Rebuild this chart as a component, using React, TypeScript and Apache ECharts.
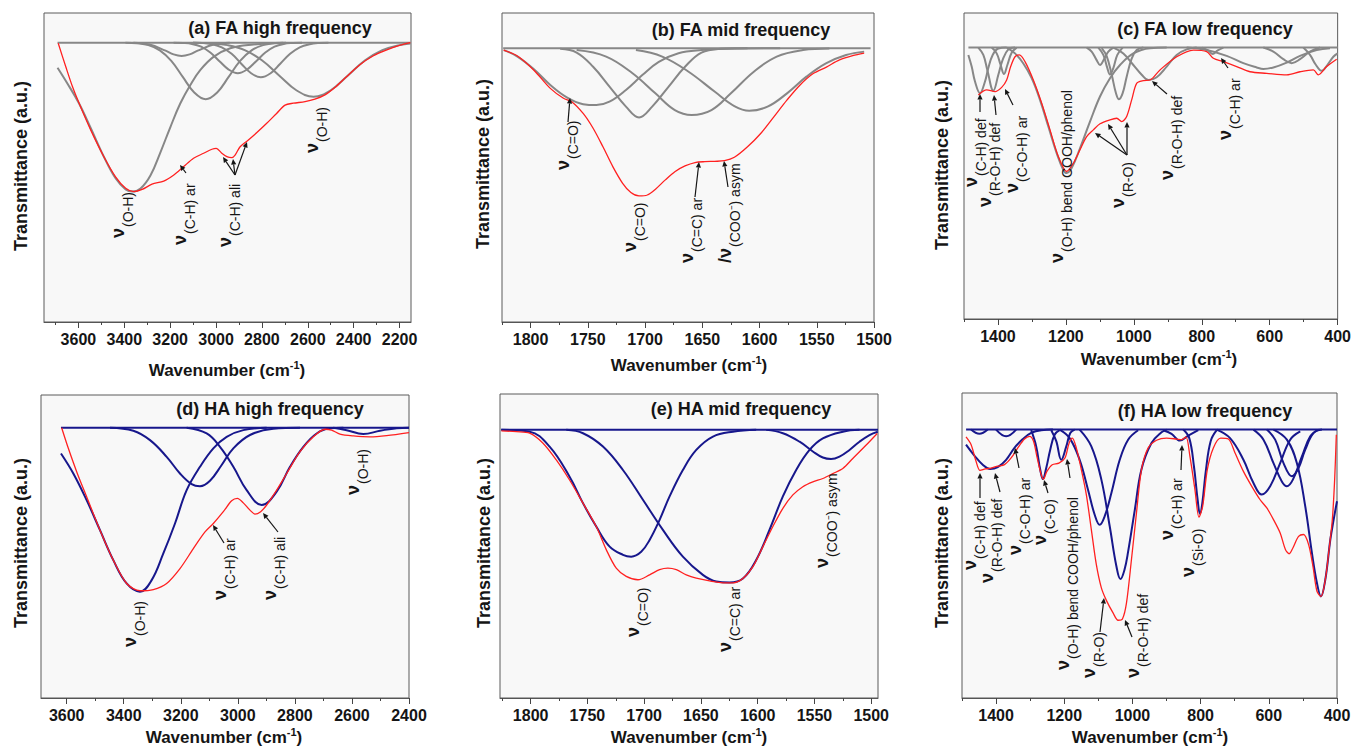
import React, { useEffect, useRef } from "react";
import * as echarts from "echarts";

const FONT = '"Liberation Sans", Arial, Helvetica, sans-serif';
const RED = "#ff2020";
const GRAY = "#878787";
const NAVY = "#17178c";
const INK = "#151515";

// ---------- tick values ----------
const ticksA = [3600, 3400, 3200, 3000, 2800, 2600, 2400, 2200];
const minorA = [3700, 3500, 3300, 3100, 2900, 2700, 2500, 2300];
const ticksB = [1800, 1750, 1700, 1650, 1600, 1550, 1500];
const minorB = [1825, 1775, 1725, 1675, 1625, 1575, 1525];
const ticksC = [1400, 1200, 1000, 800, 600, 400];
const minorC = [1500, 1300, 1100, 900, 700, 500];
const ticksD = [3600, 3400, 3200, 3000, 2800, 2600, 2400];
const minorD = [3500, 3300, 3100, 2900, 2700, 2500];

// ---------- (a) FA high frequency ----------
const aRed = [[3688,90.2],[3655,82.6],[3626,76.2],[3597,70.8],[3546,62.1],[3489,53.5],[3438,47.0],[3394,43.3],[3358,42.2],[3322,42.9],[3279,44.6],[3228,45.6],[3184,47.6],[3141,50.3],[3098,53.0],[3054,54.6],[3018,55.9],[2999,56.2],[2975,54.6],[2953,53.5],[2931,53.2],[2917,54.0],[2895,56.7],[2859,58.9],[2822,61.3],[2779,64.3],[2736,67.5],[2699,70.2],[2663,70.8],[2612,71.3],[2569,72.1],[2525,73.5],[2482,75.9],[2431,79.4],[2374,83.2],[2316,86.1],[2258,88.0],[2200,89.5],[2153,90.4]];
const aC1 = [[3691,82.3],[3648,77.2],[3597,70.7],[3546,62.7],[3489,53.5],[3438,46.5],[3394,42.9],[3365,42.2],[3329,43.2],[3286,47.4],[3242,55.0],[3199,63.1],[3156,70.7],[3112,76.7],[3069,81.5],[3011,85.8],[2938,88.6],[2837,89.8],[2707,90.4]];
const aC2 = [[3395,90.4],[3345,90.2],[3295,89.6],[3245,87.9],[3195,84.5],[3145,79.3],[3095,74.3],[3045,72.1],[2995,74.3],[2945,79.3],[2895,84.5],[2845,87.9],[2795,89.6],[2745,90.2],[2695,90.4]];
const aC3 = [[3360,90.4],[3290,89.8],[3220,87.8],[3185,86.6],[3150,86.1],[3115,86.6],[3080,87.8],[3010,89.8],[2940,90.4]];
const aC4 = [[3185,90.4],[3145,90.3],[3105,90.0],[3065,89.1],[3025,87.2],[2985,84.4],[2945,81.7],[2905,80.5],[2865,81.7],[2825,84.4],[2785,87.2],[2745,89.1],[2705,90.0],[2665,90.3],[2625,90.4]];
const aC5 = [[3100,90.4],[3060,90.3],[3017,89.9],[2975,88.9],[2932,86.8],[2890,83.6],[2847,80.5],[2805,79.2],[2762,80.5],[2720,83.6],[2677,86.8],[2635,88.9],[2592,89.9],[2550,90.3],[2510,90.4]];
const aC6 = [[3100,90.4],[3025,90.2],[2950,89.6],[2875,88.0],[2800,84.7],[2725,79.8],[2650,75.0],[2575,72.9],[2500,75.0],[2425,79.8],[2350,84.7],[2275,88.0],[2200,89.6],[2152,90.1]];
const aBase = [[3691,90.4],[2152,90.4]];

// ---------- (b) FA mid frequency ----------
const bRed = [[1823.5,88.0],[1811.5,86.1],[1797.1,81.5],[1782.8,75.6],[1771.3,72.4],[1764.1,71.3],[1754.1,67.5],[1745.4,62.7],[1736.8,56.7],[1728.2,50.3],[1719.6,44.9],[1712.4,41.9],[1705.3,40.8],[1698.1,41.1],[1690.9,43.0],[1682.3,46.0],[1673.7,48.7],[1665.1,50.5],[1656.4,51.6],[1647.8,51.9],[1639.2,52.0],[1630.6,52.2],[1622.0,53.3],[1610.5,56.7],[1599.0,61.0],[1587.5,66.4],[1576.1,71.8],[1564.6,76.7],[1553.1,80.4],[1541.6,82.5],[1530.1,84.8],[1518.6,86.2],[1508.6,87.0]];
const bC1 = [[1823.5,88.0],[1811.5,85.9],[1797.1,81.8],[1782.8,76.7],[1768.4,72.7],[1754.1,70.5],[1742.6,70.2],[1731.1,71.3],[1716.7,75.1],[1702.4,79.9],[1688.0,84.2],[1670.8,87.0],[1650.7,88.0],[1622,88.5],[1582,88.6]];
const bC2 = [[1774.2,88.4],[1759.8,87.2],[1745.4,82.6],[1731.1,76.2],[1716.7,69.7],[1705.3,66.2],[1693.8,69.7],[1679.4,76.2],[1665.1,82.6],[1650.7,87.2],[1633.5,88.4],[1610.5,88.6]];
const bC3 = [[1759.8,88.0],[1734,85.9],[1711,80.5],[1691,74.0],[1674,68.6],[1659.3,67.0],[1642,68.6],[1625,74.0],[1605,81.0],[1585,85.9],[1562,88.0],[1539,88.5]];
const bC4 = [[1708,88.0],[1685,85.9],[1662,81.0],[1639,74.5],[1622,69.9],[1609,68.4],[1593,69.7],[1576,74.0],[1559,79.4],[1542,83.7],[1524.4,86.4],[1508.6,87.5]];
const bBase = [[1824,88.6],[1503,88.6]];

// ---------- (c) FA low frequency ----------
const cRed = [[1457.8,73.2],[1433.3,74.9],[1408.7,74.3],[1389.1,75.7],[1374.4,78.1],[1362.6,82.5],[1349.8,85.7],[1337.1,86.3],[1320.4,84.1],[1295.9,78.1],[1271.3,70.5],[1246.8,61.8],[1222.3,53.1],[1197.8,48.2],[1178.1,50.9],[1158.5,55.3],[1138.9,59.6],[1119.3,61.8],[1099.6,63.8],[1070.2,65.1],[1050.5,65.6],[1035.8,64.5],[1021.1,66.2],[1006.4,71.6],[991.7,77.0],[972.0,77.9],[952.4,78.1],[923.0,81.4],[873.9,85.7],[824.8,87.9],[785.6,87.4],[765.9,85.2],[736.5,84.1],[697.3,82.5],[658.0,80.8],[608.9,80.3],[550.0,79.8],[510.8,80.8],[471.6,81.4],[456.9,79.8],[432.3,82.5],[402.9,84.9]];
const cG1 = [[1487.2,86.3],[1477.4,82.5],[1467.6,77.6],[1452.9,73.8],[1438.2,77.6],[1428.4,82.0],[1415.6,86.3],[1398.9,88.4],[1374.4,88.7]];
const cG2 = [[1457.8,88.7],[1443.1,86.3],[1431.3,81.4],[1413.6,74.6],[1398.9,79.8],[1386.2,84.7],[1369.5,88.1],[1349.8,88.7]];
const cG3 = [[1418.5,88.7],[1403.8,86.8],[1392.1,83.0],[1382.2,80.1],[1372.4,83.0],[1359.7,87.0],[1345.0,88.7]];
const cG4 = [[1374.4,88.7],[1349.8,86.8],[1325.3,83.5],[1300.8,78.7],[1276.3,71.6],[1251.7,62.9],[1227.2,54.2],[1207.6,48.7],[1197.8,47.7],[1183.0,49.3],[1158.5,55.8],[1129.1,64.5],[1099.6,72.7],[1070.2,78.7],[1040.7,83.0],[1001.5,86.8],[952.4,88.5],[903.3,88.7]];
const cG5 = [[1138.9,88.7],[1124.2,87.4],[1109.5,84.6],[1099.6,83.0],[1087.8,84.9],[1075.1,87.4],[1060.4,88.7]];
const cG6 = [[1104.5,88.7],[1089.8,86.3],[1078.0,82.0],[1070.2,79.9],[1060.4,82.0],[1048.6,86.3],[1032.9,88.7]];
const cG7 = [[1094.7,88.5],[1080.0,85.9],[1065.3,79.9],[1052.6,73.8],[1043.7,71.8],[1032.9,73.8],[1021.1,79.2],[1006.4,85.1],[991.7,87.9],[972.0,88.7]];
const cG8 = [[1060.4,88.7],[1030.9,86.8],[1001.5,83.0],[976.9,79.8],[957.3,78.1],[932.8,79.0],[903.3,82.5],[873.9,86.3],[844.4,88.1],[815.0,88.7]];
const cG9 = [[800.3,88.7],[780.7,87.7],[767.9,86.6],[754.2,87.7],[736.5,88.7]];
const cG10 = [[844.4,88.7],[785.6,87.9],[726.7,86.0],[677.7,83.6],[638.4,82.2],[618.7,81.7],[589.3,82.2],[550.0,83.8],[510.8,86.0],[461.7,87.9],[422.5,88.5]];
const cG11 = [[618.7,88.7],[589.3,87.4],[559.9,84.9],[535.3,83.6],[510.8,84.9],[481.4,87.4],[452.0,88.7]];
const cG12 = [[501.0,88.7],[481.4,86.3],[463.8,83.0],[447.0,81.1],[430.3,83.0],[412.7,85.7],[400,86.8]];
const cBase = [[1487,88.7],[400,88.7]];

// ---------- (d) HA high frequency ----------
const dRed = [[3617.6,89.2],[3594.2,82.4],[3565.0,74.7],[3530.0,66.4],[3483.2,55.4],[3436.5,45.5],[3389.7,37.8],[3343.0,35.4],[3296.3,35.8],[3249.5,37.8],[3202.8,42.7],[3156.0,49.3],[3115.1,54.8],[3085.9,57.6],[3050.9,61.5],[3021.7,65.1],[3001.8,65.9],[2980.8,64.4],[2957.4,62.0],[2939.9,60.7],[2920.0,61.5],[2898.9,63.7],[2863.9,68.6],[2828.8,74.1],[2782.1,81.3],[2735.4,86.2],[2694.5,88.7],[2671.1,88.4],[2641.9,87.1],[2595.1,86.5],[2536.7,86.2],[2478.3,86.6],[2400,87.6]];
const dB1 = [[3620.0,80.7],[3576.7,74.1],[3530.0,65.3],[3483.2,55.4],[3436.5,45.5],[3389.7,37.8],[3343.0,35.1],[3302.1,38.9],[3261.2,47.7],[3220.3,57.6],[3179.4,68.6],[3132.7,76.3],[3085.9,82.4],[3039.2,86.2],[2980.8,88.4],[2899.0,89.2]];
const dB2 = [[3448.1,89.2],[3366.4,88.2],[3307.9,85.1],[3249.5,79.6],[3202.8,74.1],[3161.9,70.6],[3132.7,69.9],[3097.6,71.7],[3056.7,76.9],[3015.8,82.4],[2957.4,86.8],[2875.6,88.9],[2782.1,89.2]];
const dB3 = [[3179.4,89.2],[3109.3,87.3],[3062.6,82.9],[3015.8,76.3],[2969.1,68.6],[2916.5,63.7],[2863.9,68.1],[2817.2,76.3],[2770.4,82.9],[2723.7,87.3],[2677.0,89.0],[2630.2,89.2]];
const dB4 = [[2665.3,89.2],[2618.5,88.4],[2560.1,87.1],[2501.7,88.2],[2443.2,89.0],[2400,89.2]];
const dBase = [[3620,89.2],[2400,89.2]];

// ---------- (e) HA mid frequency ----------
const eRed = [[1825.8,87.9],[1812.6,87.6],[1800.9,87.1],[1789.1,83.8],[1777.4,78.3],[1765.7,71.7],[1753.9,64.1],[1742.2,56.4],[1733.4,48.8],[1724.6,42.7],[1715.8,40.0],[1705.5,38.9],[1695.2,40.5],[1686.4,42.2],[1679.1,42.7],[1671.7,42.2],[1662.9,40.5],[1654.1,39.4],[1642.4,38.5],[1630.6,37.9],[1621.8,37.9],[1613.0,39.3],[1604.2,43.2],[1595.4,49.8],[1586.6,56.4],[1577.8,62.4],[1569.0,66.8],[1560.2,69.5],[1551.4,71.1],[1542.6,72.2],[1533.8,73.8],[1525.0,75.5],[1516.2,78.8],[1504.4,83.2],[1494.7,87.0]];
const eE1 = [[1825.8,88.2],[1800.9,87.6],[1783.3,82.7],[1765.7,72.8],[1753.9,64.1],[1742.2,56.4],[1730.4,49.8],[1718.7,47.1],[1711.4,46.5],[1702.6,48.1],[1695.2,52.0],[1686.4,58.6],[1677.6,66.3],[1665.9,75.0],[1654.1,81.6],[1639.4,86.0],[1621.8,87.6],[1601.3,88.2]];
const eE2 = [[1768.6,88.2],[1753.9,87.1],[1736.3,82.7],[1718.7,75.0],[1701.1,65.2],[1683.5,55.3],[1665.9,46.5],[1648.3,40.5],[1636.5,38.3],[1624.8,38.0],[1613.0,39.3],[1601.3,45.4],[1589.6,55.3],[1577.8,66.3],[1566.1,75.0],[1554.3,81.6],[1542.6,85.4],[1525.0,87.6],[1510.3,88.2]];
const eE3 = [[1592.5,88.2],[1577.8,87.1],[1563.1,84.3],[1551.4,81.1],[1542.6,79.1],[1535.3,78.6],[1527.9,79.4],[1519.1,81.6],[1510.3,84.3],[1501.5,86.5],[1494.2,87.6]];
const eBase = [[1826,88.2],[1494,88.2]];

// ---------- (f) HA low frequency ----------
const fRed = [[1488.2,85.6],[1473.5,83.1],[1458.8,77.6],[1447.1,74.6],[1431.4,75.1],[1414.7,75.4],[1395.1,76.0],[1375.5,76.5],[1355.9,78.7],[1336.3,82.0],[1316.7,84.9],[1302.0,85.8],[1290.2,84.2],[1280.4,79.2],[1267.6,73.2],[1260.8,71.8],[1251.0,74.3],[1235.3,76.5],[1215.7,77.0],[1198.0,78.7],[1186.3,83.4],[1176.5,85.2],[1164.7,82.0],[1150.0,74.9],[1135.3,66.7],[1120.6,55.2],[1105.9,43.7],[1091.2,36.1],[1076.5,32.0],[1056.9,27.9],[1042.2,25.5],[1029.4,25.9],[1017.6,31.1],[1002.9,45.4],[988.2,60.7],[973.5,74.9],[953.9,82.0],[929.4,84.5],[900.0,85.2],[870.6,84.9],[855.9,84.7],[843.1,85.6],[831.4,79.2],[816.7,68.3],[804.9,59.3],[794.1,62.8],[780.4,74.9],[762.7,82.0],[741.2,85.2],[718.6,84.9],[699.0,80.3],[674.5,74.3],[650.0,69.4],[625.5,65.0],[605.9,62.3],[586.3,58.5],[566.7,54.1],[551.0,48.6],[540.2,47.3],[529.4,49.2],[512.7,53.0],[498.0,53.6],[483.3,50.3],[470.6,43.2],[458.8,35.0],[447.1,33.3],[434.3,38.8],[424.5,47.5],[413.7,58.5],[406.9,71.6],[402.0,86.3]];
const fF1 = [[1488.2,83.1],[1463.7,79.5],[1439.2,76.5],[1417.6,75.1],[1395.1,75.7],[1370.6,78.1],[1346.1,82.0],[1321.6,84.9],[1297.1,86.9],[1267.6,87.8],[1233.3,88.0]];
const fF2 = [[1473.5,88.0],[1449.0,86.6],[1424.5,88.0]];
const fF3 = [[1400,88.0],[1370.6,85.8],[1341.2,88.0]];
const fF4 = [[1297.1,87.8],[1282.4,82.5],[1270.6,74.9],[1262.7,71.8],[1252.9,75.4],[1241.2,81.4],[1228.4,86.3],[1213.7,87.8]];
const fF5 = [[1238.2,87.8],[1223.5,84.2],[1208.8,78.1],[1194.1,82.5],[1182.4,86.9],[1169.6,88.0]];
const fF6 = [[1213.7,88.0],[1184.3,85.2],[1154.9,78.1],[1130.4,68.3],[1110.8,60.1],[1096.1,56.8],[1081.4,59.6],[1061.8,67.2],[1037.3,78.1],[1012.7,84.7],[983.3,87.8]];
const fF7 = [[1154.9,88.0],[1120.6,82.5],[1091.2,71.6],[1066.7,56.3],[1047.1,43.2],[1035.3,39.0],[1023.5,42.0],[1012.7,48.0],[993.1,61.7],[973.5,75.0],[944.1,83.6],[914.7,87.1],[900,88.0]];
const fF8 = [[909.8,87.8],[885.3,86.6],[860.8,84.4],[836.3,86.0],[806.9,87.8]];
const fF9 = [[851.0,88.0],[833.3,85.2],[819.6,75.9],[808.8,65.0],[802.0,60.4],[795.1,63.9],[784.3,74.9],[770.6,84.2],[752.9,87.8]];
const fF10 = [[752.9,88.0],[713.7,85.2],[674.5,78.1],[645.1,70.5],[620.6,66.7],[596.1,69.4],[566.7,77.0],[537.3,84.7],[507.8,87.4]];
const fF11 = [[645.1,88.0],[615.7,84.7],[586.3,77.0],[561.8,71.0],[547.1,69.4],[529.4,71.6],[502.9,79.2],[478.4,85.8],[453.9,88.0]];
const fF12 = [[605.9,88.0],[581.4,84.7],[556.9,77.0],[532.4,72.7],[512.7,75.4],[493.1,81.4],[468.6,86.9],[444.1,88.0]];
const fF13 = [[586.3,88.0],[547.1,84.7],[517.6,77.0],[493.1,62.8],[473.5,47.5],[458.8,37.7],[447.1,33.3],[434.3,38.8],[419.6,51.9],[409.8,58.5],[400,64.5]];
const fBase = [[1488,88.0],[400,88.0]];

// ---------- annotation labels: [x of ν centre, y of text start, subscript, prefix] ----------
const annA = [[118, 238, "(O-H)"], [180, 245, "(C-H) ar"], [225, 247, "(C-H) ali"], [312, 153, "(O-H)"]];
const arrA = [[186, 173, 180, 165], [235, 175, 223, 157], [235, 175, 233, 159], [235, 175, 247, 142]];
const annB = [[563, 170, "(C=O)"], [630, 252, "(C=O)"], [687, 263, "(C=C) ar"], [725, 263, "(COO⁻) asym", "/ν"]];
const arrB = [[568, 122, 570, 98], [695, 197, 699, 162], [728, 187, 724, 161]];
const annC = [[971, 187, "(C-H) def"], [985, 207, "(R-O-H) def"], [1012, 193, "(C-O-H) ar"], [1057, 263, "(O-H) bend COOH/phenol"], [1118, 208, "(R-O)"], [1167, 180, "(R-O-H) def"], [1225, 140, "(C-H) ar"]];
const arrC = [[980, 112, 980, 94], [996, 115, 994, 95], [1013, 105, 1005, 89], [1127, 155, 1095, 133], [1127, 155, 1108, 124], [1127, 155, 1127, 122], [1167, 94, 1152, 81], [1228, 68, 1221, 58]];
const annD = [[130, 647, "(O-H)"], [220, 600, "(C-H) ar"], [270, 600, "(C-H) ali"], [353, 495, "(O-H)"]];
const arrD = [[224, 543, 213, 525], [278, 532, 263, 513]];
const annE = [[633, 637, "(C=O)"], [725, 652, "(C=C) ar"], [822, 568, "(COO⁻) asym"]];
const arrE: number[][] = [];
const annF = [[970, 570, "(C-H) def"], [987, 583, "(R-O-H) def"], [1015, 555, "(C-O-H) ar"], [1040, 545, "(C-O)"], [1063, 670, "(O-H) bend COOH/phenol"], [1089, 678, "(R-O)"], [1133, 678, "(R-O-H) def"], [1167, 540, "(C-H) ar"], [1188, 577, "(Si-O)"]];
const arrF = [[980, 498, 980, 473], [1000, 492, 995, 473], [1019, 468, 1015, 448], [1048, 493, 1044, 480], [1070, 478, 1067, 459], [1100, 632, 1104, 598], [1132, 637, 1125, 620], [1181, 470, 1182, 445]];

const panels = [
  { grid: { left: 44, top: 13, width: 367, height: 309 }, min: 2150, max: 3750, ticks: ticksA, minor: minorA, red: aRed, comps: [aC1, aC2, aC3, aC4, aC5, aC6], base: aBase, color: GRAY, title: "(a) FA high frequency", tp: [280, 28], yn: [21, 166], xn: [227, 369], ann: annA, arr: arrA },
  { grid: { left: 502, top: 13, width: 372, height: 309 }, min: 1500, max: 1825, ticks: ticksB, minor: minorB, red: bRed, comps: [bC1, bC2, bC3, bC4], base: bBase, color: GRAY, title: "(b) FA mid frequency", tp: [741, 30], yn: [483, 164], xn: [689, 364], ann: annB, arr: arrB },
  { grid: { left: 964, top: 13, width: 374, height: 306 }, min: 400, max: 1500, ticks: ticksC, minor: minorC, red: cRed, comps: [cG1, cG2, cG3, cG4, cG5, cG6, cG7, cG8, cG9, cG10, cG11, cG12], base: cBase, color: GRAY, title: "(c) FA low frequency", tp: [1205, 29], yn: [942, 165], xn: [1159, 358], ann: annC, arr: arrC },
  { grid: { left: 41, top: 395, width: 368, height: 303 }, min: 2400, max: 3690, ticks: ticksD, minor: minorD, red: dRed, comps: [dB1, dB2, dB3, dB4], base: dBase, color: NAVY, title: "(d) HA high frequency", tp: [270, 409], yn: [21, 543], xn: [224, 736], ann: annD, arr: arrD },
  { grid: { left: 500, top: 394, width: 378, height: 304 }, min: 1494, max: 1827, ticks: ticksB, minor: minorB, red: eRed, comps: [eE1, eE2, eE3], base: eBase, color: NAVY, title: "(e) HA mid frequency", tp: [741, 409], yn: [484, 543], xn: [689, 736], ann: annE, arr: arrE },
  { grid: { left: 962, top: 393, width: 375, height: 305 }, min: 400, max: 1500, ticks: ticksC, minor: minorC, red: fRed, comps: [fF1, fF2, fF3, fF4, fF5, fF6, fF7, fF8, fF9, fF10, fF11, fF12, fF13], base: fBase, color: NAVY, title: "(f) HA low frequency", tp: [1205, 411], yn: [942, 543], xn: [1150, 736], ann: annF, arr: arrF },
];

function txt(x: number, y: number, text: string, size: number, weight: string, extra: any = {}) {
  return {
    type: "text", x, y, z: 60, silent: true, ...extra,
    style: { text, fontSize: size, fontWeight: weight, fontFamily: FONT, fill: INK, textAlign: "center", textVerticalAlign: "middle", align: "center", verticalAlign: "middle" },
  };
}

function label(a: any[]) {
  const [cx, by, sub, pre] = a;
  const nu = pre || "ν";
  const w = pre ? 15 : 10;
  return {
    type: "group", x: cx, y: by, rotation: Math.PI / 2, z: 60, silent: true,
    children: [
      { type: "text", x: 0, y: 0, z: 60, style: { text: nu, fontSize: 18, fontWeight: "bold", fontFamily: FONT, fill: INK, textAlign: "left", textVerticalAlign: "middle", align: "left", verticalAlign: "middle" } },
      { type: "text", x: w + 1, y: 10, z: 60, style: { text: sub, fontSize: 14, fontWeight: "normal", fontFamily: FONT, fill: INK, textAlign: "left", textVerticalAlign: "middle", align: "left", verticalAlign: "middle" } },
    ],
  };
}

function arrow(a: number[]) {
  const [x1, y1, x2, y2] = a;
  const ang = Math.atan2(y2 - y1, x2 - x1);
  const L = 5.5, Wd = 2.6;
  const bx = x2 - L * Math.cos(ang), byy = y2 - L * Math.sin(ang);
  const px = -Math.sin(ang) * Wd, py = Math.cos(ang) * Wd;
  return [
    { type: "line", z: 60, silent: true, shape: { x1, y1, x2: bx, y2: byy }, style: { stroke: INK, lineWidth: 1.2 } },
    { type: "polygon", z: 60, silent: true, shape: { points: [[x2, y2], [bx + px, byy + py], [bx - px, byy - py]] }, style: { fill: INK } },
  ];
}

function buildOption() {
  const grid: any[] = [];
  const xAxis: any[] = [];
  const yAxis: any[] = [];
  const series: any[] = [];
  const graphic: any[] = [];
  panels.forEach((p, i) => {
    grid.push({ ...p.grid, show: true, borderColor: "#5a5a5a", borderWidth: 1, backgroundColor: "#f8f8f8" });
    xAxis.push({
      type: "value", gridIndex: i, min: p.min, max: p.max, inverse: true, position: "bottom",
      splitLine: { show: false },
      axisLine: { show: true, onZero: false, lineStyle: { color: "#555", width: 1 } },
      axisTick: { show: true, inside: false, length: 6, customValues: p.ticks, lineStyle: { color: "#444", width: 1 } },
      axisLabel: { show: true, customValues: p.ticks, formatter: (v: number) => String(v), margin: 9, fontSize: 16, fontWeight: "bold", fontFamily: FONT, color: INK },
    });
    xAxis.push({
      type: "value", gridIndex: i, min: p.min, max: p.max, inverse: true, position: "bottom", offset: 0,
      splitLine: { show: false },
      axisLine: { show: false, onZero: false },
      axisTick: { show: true, inside: false, length: 3, customValues: p.minor, lineStyle: { color: "#444", width: 1 } },
      axisLabel: { show: false },
    });
    yAxis.push({ type: "value", gridIndex: i, min: 0, max: 100, show: false, splitLine: { show: false } });
    const common = { type: "line", xAxisIndex: 2 * i, yAxisIndex: i, showSymbol: false, symbol: "none", silent: true, animation: false };
    p.comps.forEach((c) => {
      series.push({ ...common, data: c, smooth: 0.4, lineStyle: { color: p.color, width: 2 }, z: 2 });
    });
    series.push({ ...common, data: p.base, lineStyle: { color: p.color, width: 2 }, z: 2 });
    series.push({ ...common, data: p.red, smooth: 0.3, lineStyle: { color: RED, width: 1.3 }, z: 3 });

    graphic.push(txt(p.tp[0], p.tp[1], p.title, 18, "bold"));
    graphic.push(txt(p.yn[0], p.yn[1], "Transmittance (a.u.)", 18, "bold", { rotation: Math.PI / 2 }));
    graphic.push({
      type: "text", x: p.xn[0], y: p.xn[1], z: 60, silent: true,
      style: {
        text: "{a|Wavenumber (cm}{b|-1}{a|)}",
        textAlign: "center", textVerticalAlign: "middle", align: "center", verticalAlign: "middle",
        rich: {
          a: { fontSize: 17, fontWeight: "bold", fontFamily: FONT, fill: INK, lineHeight: 20, verticalAlign: "bottom" },
          b: { fontSize: 11, fontWeight: "bold", fontFamily: FONT, fill: INK, lineHeight: 12, verticalAlign: "top" },
        },
      },
    });
    p.ann.forEach((a) => graphic.push(label(a as any[])));
    p.arr.forEach((a) => arrow(a as number[]).forEach((g) => graphic.push(g)));
  });
  return { animation: false, backgroundColor: "#ffffff", grid, xAxis, yAxis, series, graphic };
}

export default function App() {
  const ref = useRef<HTMLDivElement>(null);
  useEffect(() => {
    const chart = echarts.init(ref.current as HTMLDivElement, null, { renderer: "svg" });
    chart.setOption(buildOption() as any);
    return () => chart.dispose();
  }, []);
  return <div ref={ref} style={{ position: "fixed", left: 0, top: 0, width: 1354, height: 750 }} />;
}
